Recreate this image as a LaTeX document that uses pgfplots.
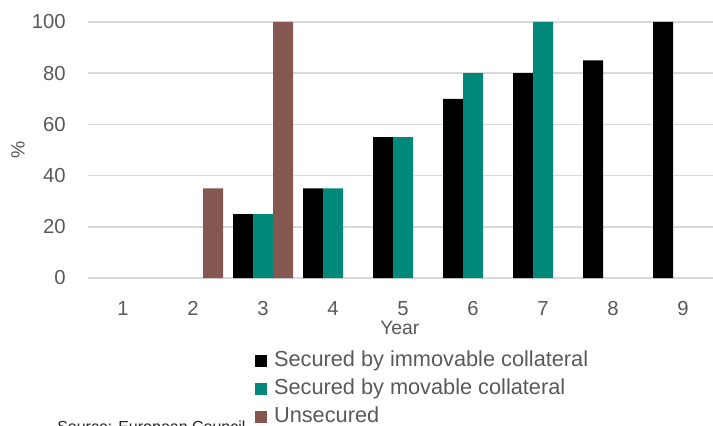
\documentclass[border=0pt]{standalone}
\usepackage{pgfplots}
\pgfplotsset{compat=1.18}
\usepackage{fontspec}
\setmainfont{Liberation Sans}
\definecolor{immov}{HTML}{000000}
\definecolor{mov}{HTML}{00897B}
\definecolor{unsec}{HTML}{845750}
\definecolor{txtgray}{HTML}{595959}
\definecolor{gridgray}{HTML}{D9D9D9}
\pgfplotsset{
  sqlegend/.style={legend image code/.code={\fill[##1] (0pt,-4.5pt) rectangle (9pt,4.5pt);}},
}

\begin{document}
\begin{tikzpicture}
% page frame, in pt, with the axis corner at the origin
\path[use as bounding box] (-66pt,-110.25pt) rectangle (468.75pt,208.5pt);
\begin{axis}[
  name=main,
  scale only axis, width=472.5pt, height=192pt,
  xmin=0.5, xmax=9.5, ymin=0, ymax=100,
  xtick={1,...,9}, ytick={0,20,...,100},
  axis line style={draw=none},
  major tick length=0pt,
  ymajorgrids, grid style={gridgray, line width=1.1pt},
  /pgf/number format/assume math mode=true,
  tick label style={font=\fontsize{15.2}{17}\selectfont, text=txtgray, inner sep=0pt},
  yticklabel style={anchor=east, xshift=-16.5pt},
  xticklabel style={anchor=north, yshift=-17.5pt},
  xlabel={Year},
  xlabel style={at={(axis description cs:0.495,0)}, anchor=base, yshift=-42pt,
    font=\fontsize{14.5}{16}\selectfont, text=txtgray, inner sep=0pt},
  ylabel={\%},
  ylabel style={at={([xshift=-52.5pt]axis description cs:0,0.5)}, anchor=center,
    font=\fontsize{14.5}{16}\selectfont, text=txtgray},
  legend style={at={(rel axis cs:0.259,0)}, anchor=north west, yshift=-52.3pt,
    draw=none, fill=none, font=\fontsize{16.3}{18}\selectfont, text=txtgray,
    row sep=6pt, column sep=5pt,
    nodes={inner sep=0pt, text height=12pt, text depth=3pt}},
  legend cell align=left,
]
\addplot[ybar, bar width=15pt, bar shift=-15pt, fill=immov, draw=none, sqlegend]
  coordinates {(3,25) (4,35) (5,55) (6,70) (7,80) (8,85) (9,100)};
\addlegendentry{Secured by immovable collateral}
\addplot[ybar, bar width=15pt, bar shift=0pt, fill=mov, draw=none, sqlegend]
  coordinates {(3,25) (4,35) (5,55) (6,80) (7,100)};
\addlegendentry{Secured by movable collateral}
\addplot[ybar, bar width=15pt, bar shift=15pt, fill=unsec, draw=none, sqlegend]
  coordinates {(2,35) (3,100)};
\addlegendentry{Unsecured}
\end{axis}
\node[anchor=base west, font=\fontsize{12}{14}\selectfont, text=black!85, inner sep=0pt]
  at (-23.25pt,-115.5pt) {Source: European Council};
\end{tikzpicture}
\end{document}
